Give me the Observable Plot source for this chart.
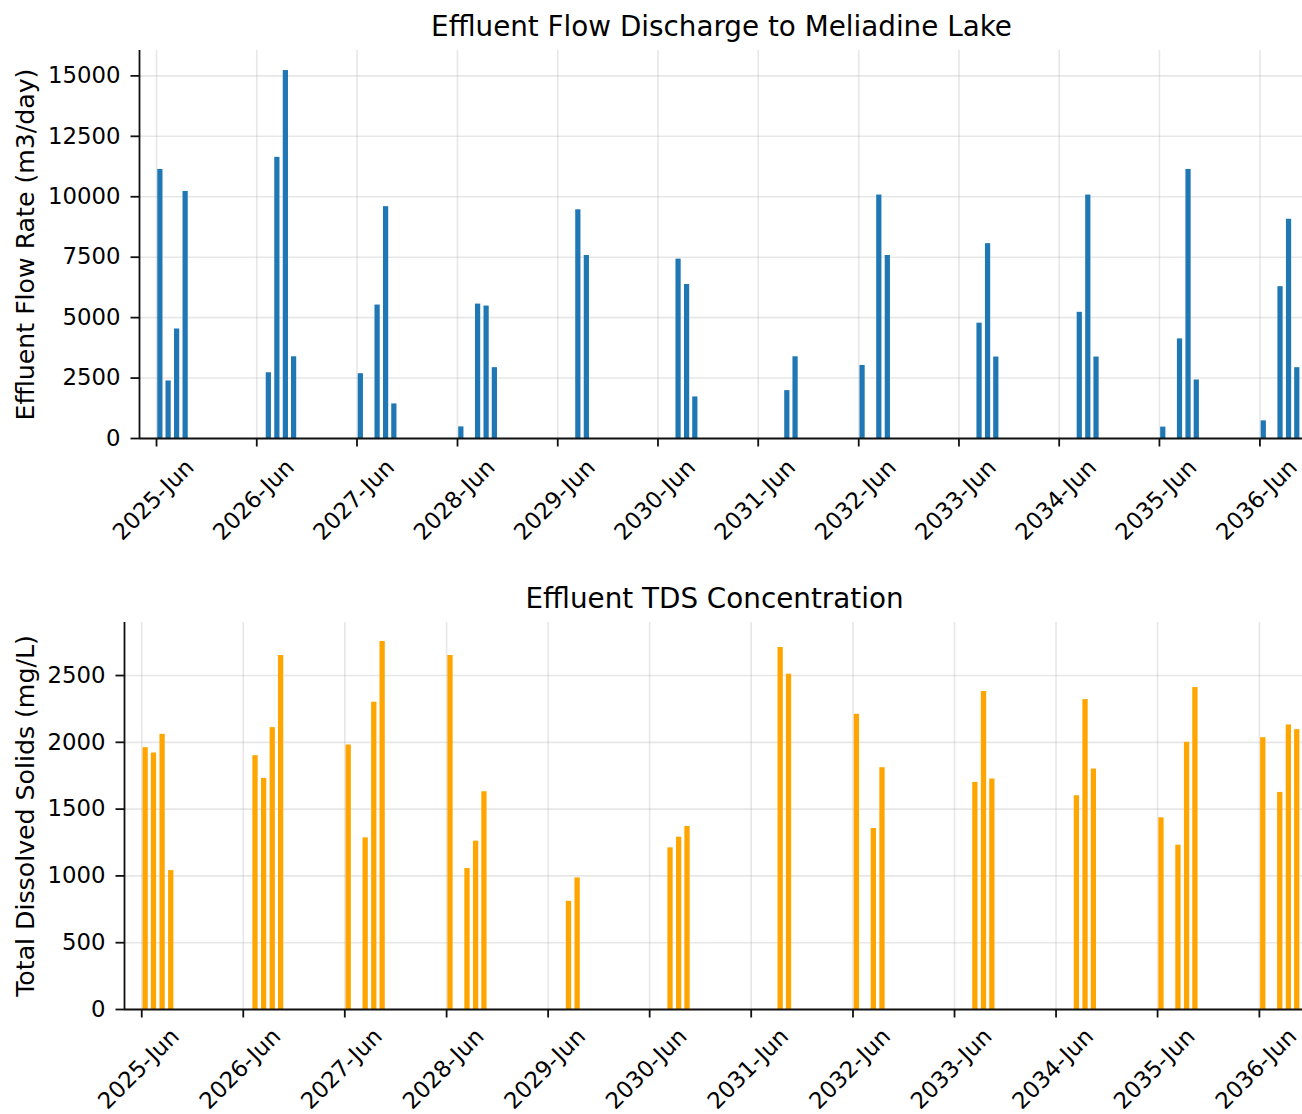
<!DOCTYPE html>
<html>
<head>
<meta charset="utf-8">
<script src="https://cdn.jsdelivr.net/npm/d3@7"></script>
<script src="https://cdn.jsdelivr.net/npm/@observablehq/plot@0.6"></script>
<style>
  html, body { margin: 0; padding: 0; background: #fff; }
  #page { position: relative; width: 1302px; height: 1114px; overflow: hidden; font-family: "DejaVu Sans", sans-serif; }
  .title { position: absolute; font-size: 27.8px; line-height: 27.8px; white-space: nowrap; transform: translateX(-50%); color: #000; }
  .panel { position: absolute; left: 0; }
</style>
</head>
<body>
<div id="page"></div>
<script>
// Monthly discharge periods (mid-month dates)
const months = [
  "2025-06", "2025-07", "2025-08", "2025-09",
  "2026-07", "2026-08", "2026-09", "2026-10",
  "2027-06", "2027-08", "2027-09", "2027-10",
  "2028-06", "2028-08", "2028-09", "2028-10",
  "2029-08", "2029-09",
  "2030-08", "2030-09", "2030-10",
  "2031-09", "2031-10",
  "2032-06", "2032-08", "2032-09",
  "2033-08", "2033-09", "2033-10",
  "2034-08", "2034-09", "2034-10",
  "2035-06", "2035-08", "2035-09", "2035-10",
  "2036-06", "2036-08", "2036-09", "2036-10"
];

// Effluent flow rate, m3/day
const flowRate = [
  11130, 2380, 4530, 10220,
  2720, 11630, 15220, 3380,
  2680, 5520, 9590, 1430,
  480, 5560, 5480, 2930,
  9460, 7570,
  7420, 6370, 1720,
  1980, 3380,
  3020, 10070, 7570,
  4770, 8060, 3370,
  5220, 10070, 3370,
  470, 4120, 11130, 2420,
  730, 6280, 9070, 2930
];

// Effluent total dissolved solids, mg/L
const tdsConc = [
  1960, 1920, 2060, 1040,
  1900, 1730, 2110, 2650,
  1980, 1285, 2300, 2755,
  2650, 1055, 1260, 1630,
  810, 985,
  1210, 1290, 1370,
  2710, 2510,
  2210, 1355, 1810,
  1700, 2380, 1725,
  1600, 2320, 1800,
  1435, 1230, 2000, 2410,
  2035, 1625, 2130, 2095
];

const tickYears = [2025, 2026, 2027, 2028, 2029, 2030, 2031, 2032, 2033, 2034, 2035, 2036];
const flowTicks = [0, 2500, 5000, 7500, 10000, 12500, 15000];
const tdsTicks = [0, 500, 1000, 1500, 2000, 2500];

const FONT = "DejaVu Sans";
const TICK_FS = 22.8;
const LABEL_FS = 25.2;
const INK = "#111";
const xDomain = [new Date("2025-03-31"), new Date("2036-11-03")];
const tickDates = tickYears.map(y => new Date(Date.UTC(y, 5, 1)));
const fmtTick = d3.utcFormat("%Y-%b");
const halfBar = 9.5 * 864e5;

function panel({values, color, yDomain, yTicks, yLabel, marginLeft, height, marginBottom, labelDy}) {
  const rows = months.map((m, i) => ({date: new Date(m + "-15"), value: values[i]}));
  const grid = {stroke: "#b0b0b0", strokeOpacity: 0.3, strokeWidth: 1.6};
  return Plot.plot({
    width: 1302,
    height,
    marginTop: 10,
    marginRight: 0,
    marginBottom,
    marginLeft,
    style: {fontFamily: FONT, fontSize: TICK_FS + "px", color: "#000", background: "transparent", overflow: "visible"},
    x: {type: "utc", domain: xDomain},
    y: {domain: yDomain},
    marks: [
      Plot.gridX(tickDates, grid),
      Plot.gridY(yTicks, grid),
      Plot.rect(rows, {
        x1: d => new Date(+d.date - halfBar),
        x2: d => new Date(+d.date + halfBar),
        y1: 0,
        y2: "value",
        fill: color
      }),
      Plot.axisY(yTicks, {tickSize: 8.5, tickPadding: 10.5, tickFormat: d => String(d), label: null, fontSize: TICK_FS, strokeWidth: 1.8, stroke: INK}),
      Plot.axisX(tickDates, {tickSize: 8.5, tickFormat: () => "", label: null, strokeWidth: 1.8, stroke: INK}),
      Plot.ruleX([xDomain[0]], {stroke: INK, strokeWidth: 1.8}),
      Plot.ruleY([0], {stroke: INK, strokeWidth: 1.8}),
      Plot.text(tickDates, {
        x: d => d,
        frameAnchor: "bottom",
        dx: -3,
        dy: labelDy,
        rotate: -45,
        text: d => fmtTick(d),
        textAnchor: "middle",
        lineAnchor: "middle",
        fontSize: TICK_FS,
        fill: "#000"
      }),
      Plot.text([yLabel], {
        frameAnchor: "left",
        dx: -(marginLeft - 25.5),
        rotate: -90,
        text: d => d,
        textAnchor: "middle",
        lineAnchor: "middle",
        fontSize: LABEL_FS,
        fill: "#000"
      })
    ]
  });
}

const page = document.getElementById("page");

function addTitle(text, cx, top) {
  const t = document.createElement("div");
  t.className = "title";
  t.textContent = text;
  t.style.left = cx + "px";
  t.style.top = top + "px";
  page.appendChild(t);
}

function addPanel(svg, top) {
  svg.classList.add("panel");
  svg.style.top = top + "px";
  page.appendChild(svg);
}

addTitle("Effluent Flow Discharge to Meliadine Lake", 721.5, 13);
addPanel(panel({
  values: flowRate,
  color: "#1f77b4",
  yDomain: [0, 16050],
  yTicks: flowTicks,
  yLabel: "Effluent Flow Rate (m3/day)",
  marginLeft: 139,
  height: 520,
  marginBottom: 122,
  labelDy: 61.5
}), 40);

addTitle("Effluent TDS Concentration", 714.5, 584.5);
addPanel(panel({
  values: tdsConc,
  color: "#ffa500",
  yDomain: [0, 2897],
  yTicks: tdsTicks,
  yLabel: "Total Dissolved Solids (mg/L)",
  marginLeft: 124,
  height: 502,
  marginBottom: 105,
  labelDy: 59.5
}), 612);
</script>
</body>
</html>
